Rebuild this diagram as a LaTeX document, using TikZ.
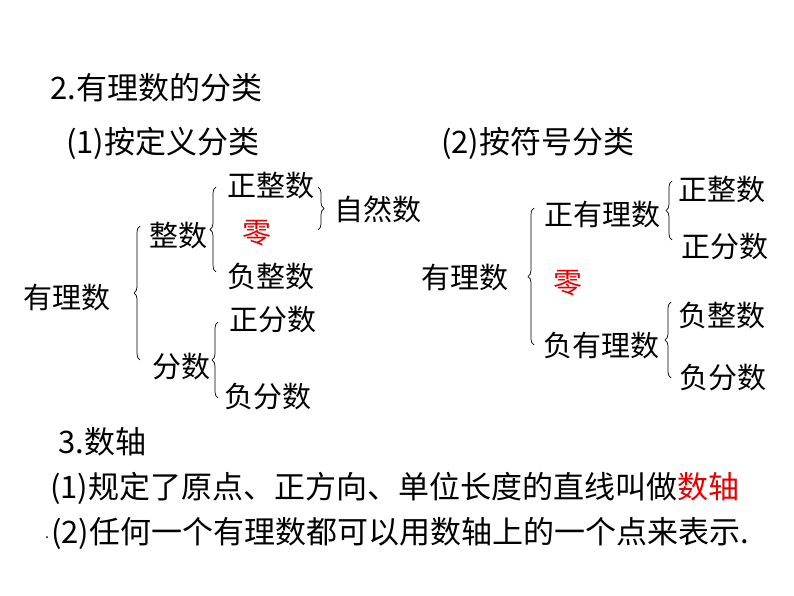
\documentclass[tikz,border=0pt]{standalone}
\usepackage{fontspec}
\setmainfont{Noto Sans CJK SC}
\usetikzlibrary{decorations.pathreplacing}
\begin{document}
\begin{tikzpicture}[x=1pt,y=-1pt,
  t/.style={font=\fontsize{29}{32}\selectfont, inner sep=0pt},
  ln/.style={font=\fontsize{31}{34}\selectfont, inner sep=0pt, anchor=west},
  br/.style={decorate, decoration={brace, amplitude=6pt}, line width=0.7pt},
  red/.style={text={rgb,255:red,230;green,0;blue,0}}]
\useasboundingbox (0,0) rectangle (794,596);
\node[ln] (h2) at (50,88) {2.有理数的分类};
\node[ln] (d1) at (66,143) {(1)按定义分类};
\node[ln] (d2) at (441,143) {(2)按符号分类};
% left tree
\node[t] (a0) at (67,298) {有理数};
\node[t] (a1) at (178,236) {整数};
\node[t] (a2) at (181,367) {分数};
\node[t] (a3) at (271,186) {正整数};
\node[t,red] (a4) at (257,233) {零};
\node[t] (a5) at (271,277) {负整数};
\node[t] (a6) at (273,320) {正分数};
\node[t] (a7) at (268,397) {负分数};
\node[t] (a8) at (378,209) {自然数};
\draw[br] (140,360) -- (140,226);
\draw[br] (216,272) -- (216,187);
\draw[br] (218,398) -- (218,322);
\draw[br] (318,187) -- (318,230);
% right tree
\node[t] (b0) at (465,278) {有理数};
\node[t] (b1) at (602,215) {正有理数};
\node[t,red] (b2) at (568,283) {零};
\node[t] (b3) at (601,346) {负有理数};
\node[t] (b4) at (722,190) {正整数};
\node[t] (b5) at (725,247) {正分数};
\node[t] (b6) at (722,316) {负整数};
\node[t] (b7) at (723,378) {负分数};
\draw[br] (534,345) -- (534,208);
\draw[br] (672,240) -- (672,181);
\draw[br] (671,378) -- (671,302);
% bottom
\node[ln] (h3) at (58,442) {3.数轴};
\node[ln] (l1) at (50,488) {(1)规定了原点、正方向、单位长度的直线叫做\textcolor[RGB]{230,0,0}{数轴}};
\node[ln] (l2) at (51,533) {(2)任何一个有理数都可以用数轴上的一个点来表示.};
\fill (47,537) circle (1pt);
\end{tikzpicture}
\end{document}
